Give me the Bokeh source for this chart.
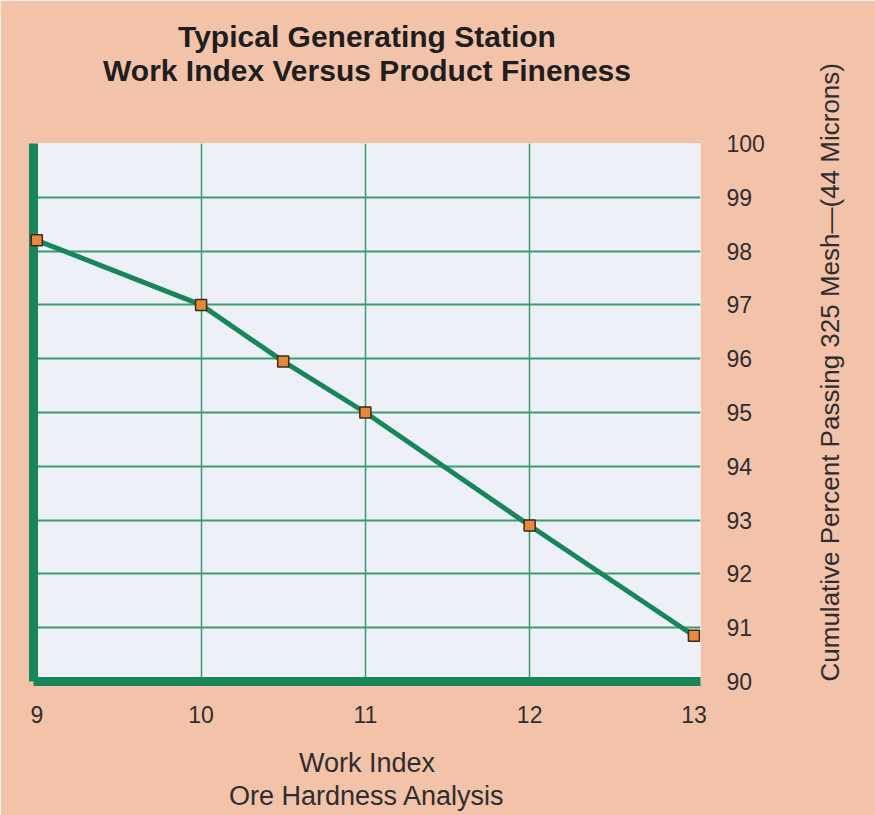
import math
from bokeh.plotting import figure
from bokeh.models import Title, FixedTicker, Range1d, LinearAxis
from bokeh.embed import file_html
from bokeh.resources import INLINE

work_index = [9, 10, 10.5, 11, 12, 13]
percent_passing = [98.2, 97.0, 95.95, 95.0, 92.9, 90.85]
x_ticks = [9, 10, 11, 12, 13]
y_ticks = [90, 91, 92, 93, 94, 95, 96, 97, 98, 99, 100]
Y_LABEL = "Cumulative Percent Passing 325 Mesh\u2014(44 Microns)"

PEACH = "#f3c3a9"
PLOT_BG = "#eef0f8"
GREEN = "#17875a"
GRID = "#3a9b6c"
TXT = "#2e2e2e"
FONT = "Liberation Sans"

p = figure(width=875, height=815, output_backend="svg", toolbar_location=None,
           x_range=Range1d(8.98, 13.04), y_range=Range1d(90, 100),
           background_fill_color=PLOT_BG, border_fill_color=PEACH,
           min_border_left=33, min_border_right=175, min_border_top=143,
           min_border_bottom=134, outline_line_color=None, y_axis_location=None)

# left axis: thick line only
left = LinearAxis(ticker=FixedTicker(ticks=[]), axis_line_color=GREEN, axis_line_width=9,
                  major_tick_line_color=None, minor_tick_line_color=None,
                  major_label_text_font_size="0px")
p.add_layout(left, "left")

# right axis: tick labels
right = LinearAxis(ticker=FixedTicker(ticks=y_ticks), axis_line_color=None,
                   major_tick_line_color=None, minor_tick_line_color=None,
                   major_label_standoff=20, major_label_text_font_size="23px",
                   major_label_text_font=FONT, major_label_text_color=TXT)
p.add_layout(right, "right")

# second right axis: carries the rotated (bottom-to-top) axis title
title_axis = LinearAxis(ticker=FixedTicker(ticks=[]), axis_line_color=None,
                        major_tick_line_color=None, minor_tick_line_color=None,
                        major_label_text_font_size="0px",
                        axis_label=Y_LABEL, axis_label_text_font=FONT,
                        axis_label_text_font_size="26px",
                        axis_label_text_font_style="normal",
                        axis_label_text_color=TXT, axis_label_standoff=62)
title_axis.axis_label_orientation = math.pi / 2
try:
    title_axis.axis_label_align = "start"
except Exception:
    pass
p.add_layout(title_axis, "right")

xa = p.xaxis[0]
xa.ticker = FixedTicker(ticks=x_ticks)
xa.axis_line_color = GREEN
xa.axis_line_width = 9
xa.major_tick_line_color = None
xa.minor_tick_line_color = None
xa.major_label_standoff = 18
xa.major_label_text_font_size = "23px"
xa.major_label_text_font = FONT
xa.major_label_text_color = TXT

p.xgrid.ticker = FixedTicker(ticks=[10, 11, 12])
p.xgrid.grid_line_color = GRID
p.xgrid.grid_line_width = 1.5
p.ygrid.ticker = FixedTicker(ticks=[91, 92, 93, 94, 95, 96, 97, 98, 99])
p.ygrid.grid_line_color = GRID
p.ygrid.grid_line_width = 2

p.line(work_index, percent_passing, line_color=GREEN, line_width=5)
p.scatter(work_index, percent_passing, marker="square", size=11,
          fill_color="#e8893a", line_color="#3a2a20", line_width=1.5,
          level="overlay")

# titles (stacked outward from the frame)
p.title = None
p.add_layout(Title(text=" ", text_font_size="1px", standoff=54), "above")
p.add_layout(Title(text="Work Index Versus Product Fineness", align="center",
                   text_font=FONT, text_font_size="30px", text_font_style="bold",
                   text_color="#1e1e1e", standoff=-1), "above")
p.add_layout(Title(text="Typical Generating Station", align="center",
                   text_font=FONT, text_font_size="30px", text_font_style="bold",
                   text_color="#1e1e1e", standoff=-1), "above")

p.add_layout(Title(text=" ", text_font_size="1px", standoff=17), "below")
p.add_layout(Title(text="Work Index", align="center", text_font=FONT,
                   text_font_size="27px", text_font_style="normal", text_color=TXT,
                   standoff=0.6), "below")
p.add_layout(Title(text="Ore Hardness Analysis", align="center", text_font=FONT,
                   text_font_size="27px", text_font_style="normal", text_color=TXT,
                   standoff=0.6), "below")

open("out.html", "w").write(file_html(p, INLINE))
